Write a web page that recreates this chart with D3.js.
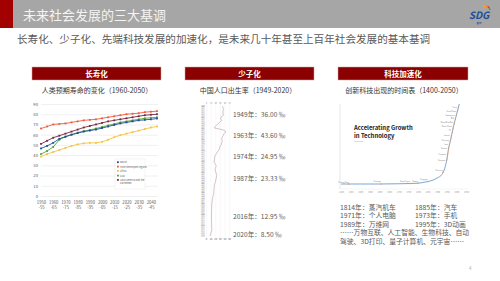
<!DOCTYPE html>
<html><head><meta charset="utf-8">
<script src="https://cdn.jsdelivr.net/npm/d3@7"></script>
<style>
body{margin:0;background:#fff}
svg{display:block}
text{font-family:"Noto Sans CJK SC","Liberation Sans",sans-serif}
</style>
</head><body><script>
'use strict';

// ---- left: life expectancy (UN, 5-year periods)
var periods = ["1950-55","1955-60","1960-65","1965-70","1970-75","1975-80","1980-85","1985-90","1990-95","1995-00",
               "2000-05","2005-10","2010-15","2015-20","2020-25","2025-30","2030-35","2035-40","2040-45","2045-50"];
var seriesNames = ["World","More developed regions","Africa","Asia","Latin America and the Caribbean"];
var worldLE     = [46.5,49,52,56,58,60,61.5,63,64,65,66.5,68,69.5,71,72,73,74,74.5,75,75.8];
var developedLE = [66,68,70,70.5,71,72,73,74,74.5,75,76,77,78,79,80,80.5,81,82,82.5,83];
var africaLE    = [38.5,41,43,45,47,49,50.5,51.5,52,52,53,55,57.5,59.5,61,62.5,64,65.5,67,68];
var asiaLE      = [41,44,48,55,58,60,62,63.5,64.5,66,67.5,69,70.5,72,73,74,75,76,76.5,77];
var latinLE     = [51,54,57,59,61,63,65,67,68.5,70,71.5,73,74,75,76,77,78,79,79.5,80];
var seriesColors = ["#1f4e96","#ee5a3c","#f4c542","#4ea53b","#7b2342"];
var leTicks = [0,10,20,30,40,50,60,70,80,90];

// ---- middle: China birth rate (per mille)
var birthYears = d3.range(1949, 2021);
var birthRates = [36.0,37.0,37.8,37.0,37.0,38.0,32.6,31.9,34.0,29.2,24.8,20.9,18.0,37.0,43.6,39.1,37.9,35.1,34.0,35.6,
                  34.1,33.4,30.7,29.8,27.9,24.95,23.0,19.9,18.9,18.3,17.8,18.2,20.9,22.3,20.2,19.9,21.0,22.4,23.33,22.4,
                  21.6,21.1,19.7,18.2,18.1,17.7,17.1,17.0,16.6,15.6,14.6,14.0,13.4,12.9,12.4,12.3,12.4,12.1,12.1,12.1,
                  12.0,11.9,11.9,12.1,12.1,12.4,12.1,12.95,12.4,10.9,10.5,8.5];
var noteYears = [1949,1963,1974,1987,2016,2020];
var noteTexts = ["1949年：36.00 ‰","1963年：43.60 ‰","1974年：24.95 ‰","1987年：23.33 ‰","2016年：12.95 ‰","2020年：8.50 ‰"];
var noteRows  = [115,136,157,179,217,235];

// ---- right: accelerating growth of technology
var techYears = [1400,1500,1600,1700,1760,1800,1850,1880,1900,1925,1940,1950,1960,1970,1985,2000,2015];
var techLevel = [0,0,0,0.3,0.6,1,3,5,7.5,12,20,30,45,55,72,86,100];
var mileYears = [1440,1608,1760,1800,1850,1930];
var mileNames = ["Printing Press","Telescope","Steam Engine","Battery","Telegraph","Television"];
var steepYears = [1950,1955,1960,1965,1970,1975,1980,1985,1990,1995,2000,2005,2010];
var steepNames = ["Transistor","Computer","Satellite","Laser","Microchip","Internet","PC","Mobile Phone",
                  "World Wide Web","DNA","Smartphone","Social Media","Cloud"];
var techTicks = d3.range(1400, 2051, 50);
var techNotes = [["1814年：蒸汽机车","1885年：汽车"],["1971年：个人电脑","1973年：手机"],["1989年：万维网","1995年：3D动画"]];
var techMore = ["……万物互联、人工智能、生物科技、自动","驾驶、3D打印、量子计算机、元宇宙……"];

var svg = d3.select("body").append("svg").attr("width", 500).attr("height", 281);

// header
svg.append("rect").attr("x", 0).attr("y", 0).attr("width", 500).attr("height", 28).attr("fill", "#a6a6a6");
svg.append("rect").attr("x", 0).attr("y", 0).attr("width", 13).attr("height", 28).attr("fill", "#a30000");
svg.append("text").attr("x", 23).attr("y", 20).attr("font-size", 13).attr("fill", "#f4f4f4")
   .text("未来社会发展的三大基调");
svg.append("text").attr("x", 17).attr("y", 43).attr("font-size", 10.6).attr("fill", "#595959")
   .text("长寿化、少子化、先端科技发展的加速化，是未来几十年甚至上百年社会发展的基本基调");

// logo
var logo = svg.append("g").attr("transform", "translate(479,0)");
var arcColors = ["#f7b500","#ef7d1a","#e3342f","#3aa935"];
arcColors.forEach(function(c, i){
   logo.append("path")
      .attr("transform", "translate(7,10)")
      .attr("d", d3.arc()({innerRadius: 3.2, outerRadius: 4.6, startAngle: -0.6 + i * 0.55, endAngle: -0.6 + (i + 1) * 0.55}))
      .attr("fill", c);
});
logo.append("text").attr("x", 0).attr("y", 19).attr("text-anchor", "middle").attr("font-size", 10)
   .attr("font-weight", "bold").attr("font-style", "italic").attr("fill", "#1d4f9a")
   .attr("font-family", "Liberation Sans").text("SDG");
logo.append("text").attr("x", 0).attr("y", 24).attr("text-anchor", "middle").attr("font-size", 2.6)
   .attr("fill", "#1d4f9a").text("智库");

// section headers
function header(x, w, label){
   svg.append("rect").attr("x", x).attr("y", 67).attr("width", w).attr("height", 13)
      .attr("fill", "#8b0000").attr("stroke", "#d9a0a0").attr("stroke-width", 0.5);
   svg.append("text").attr("x", x + w / 2).attr("y", 76.5).attr("text-anchor", "middle")
      .attr("font-size", 7.5).attr("font-weight", "bold").attr("fill", "#fff").text(label);
}
header(32, 129, "长寿化");
header(185, 129, "少子化");
header(338, 130, "科技加速化");

function subTitle(x, label){
   svg.append("text").attr("x", x).attr("y", 92.5).attr("text-anchor", "middle")
      .attr("font-size", 7).attr("fill", "#333").text(label);
}
subTitle(97, "人类预期寿命的变化（1960-2050）");
subTitle(248, "中国人口出生率（1949-2020）");
subTitle(404, "创新科技出现的时间表（1400-2050）");

// ---- left chart
var lx = d3.scalePoint().domain(periods).range([41, 157]);
var ly = d3.scaleLinear().domain([0, 90]).range([196, 104]);
var left = svg.append("g");
left.append("g").attr("transform", "translate(41,0)")
   .call(d3.axisLeft(ly).tickValues(leTicks).tickSize(-117))
   .call(function(g){
      g.select(".domain").remove();
      g.selectAll(".tick line").attr("stroke", "#d9d9d9").attr("stroke-width", 0.4);
      g.selectAll(".tick text").attr("x", -3).attr("font-size", 4.2).attr("fill", "#595959");
   });
var xg = left.append("g").attr("transform", "translate(0,196)")
   .call(d3.axisBottom(lx).tickValues(periods.filter(function(d, i){ return i % 2 === 0 && i < 19; })).tickSize(0).tickFormat(""));
xg.select(".domain").remove();
xg.selectAll(".tick").each(function(d){
   var p = d.split("-");
   var t = d3.select(this).append("text").attr("fill", "#595959").attr("font-size", 4.2).attr("text-anchor", "middle");
   t.append("tspan").attr("x", 0).attr("y", 7.5).text(p[0]);
   t.append("tspan").attr("x", 0).attr("y", 13).text("-" + p[1]);
});
var leSeries = [worldLE, developedLE, africaLE, asiaLE, latinLE];
var line = d3.line().x(function(d, i){ return lx(periods[i]); }).y(function(d){ return ly(d); });
[2, 3, 0, 4, 1].forEach(function(k){
   var s = leSeries[k];
   left.append("path").attr("d", line(s)).attr("fill", "none").attr("stroke", seriesColors[k]).attr("stroke-width", 0.9);
   left.selectAll(null).data(s).enter().append("rect")
      .attr("x", function(d, i){ return lx(periods[i]) - 0.9; })
      .attr("y", function(d){ return ly(d) - 0.9; })
      .attr("width", 1.8).attr("height", 1.8).attr("fill", seriesColors[k]);
});
var leg = left.append("g").attr("transform", "translate(115,159)");
leg.append("rect").attr("width", 30).attr("height", 30).attr("fill", "#fff").attr("stroke", "#d9d9d9").attr("stroke-width", 0.3);
var legRows = [3.3, 7.7, 12, 16.7, 21];
seriesNames.forEach(function(n, i){
   leg.append("rect").attr("x", 2).attr("y", legRows[i] - 1).attr("width", 1.8).attr("height", 1.8).attr("fill", seriesColors[i]);
   var t = leg.append("text").attr("x", 5).attr("y", legRows[i] + 0.8).attr("font-size", 2.4).attr("fill", "#595959");
   if (i === 4) {
      t.append("tspan").attr("x", 5).text("Latin America and the");
      t.append("tspan").attr("x", 5).attr("dy", 3).text("Caribbean");
   } else t.text(n);
});

// ---- middle chart (rotated: years downwards, rate across)
var my = d3.scaleLinear().domain([1949, 2020]).range([106, 236]);
var mx = d3.scaleLinear().domain([0, 50]).range([206, 229]);
var mid = svg.append("g");
mid.append("g").attr("transform", "translate(0,104)")
   .call(d3.axisTop(mx).ticks(5).tickSize(-134))
   .call(function(g){
      g.select(".domain").remove();
      g.selectAll(".tick line").attr("stroke", "#e6e6e6").attr("stroke-width", 0.3);
      g.selectAll(".tick text").attr("y", -0.5).attr("font-size", 1.8).attr("fill", "#777");
   });
mid.selectAll(null).data(birthYears).enter().append("text")
   .attr("x", 201).attr("y", function(d){ return my(d) + 0.6; })
   .attr("font-size", 1.7).attr("fill", "#8c8c8c").text(function(d){ return d; });
mid.append("path")
   .attr("d", d3.line().x(function(d){ return mx(d); }).y(function(d, i){ return my(birthYears[i]); })(birthRates))
   .attr("fill", "none").attr("stroke", "#b89aa6").attr("stroke-width", 0.6);
mid.append("g").attr("transform", "translate(0,238)")
   .call(d3.axisBottom(mx).ticks(5).tickSize(0))
   .call(function(g){
      g.select(".domain").remove();
      g.selectAll(".tick text").attr("y", 0).attr("font-size", 2.4).attr("fill", "#555");
   });
noteTexts.forEach(function(t, i){
   mid.append("text").attr("x", 233).attr("y", noteRows[i] + 2.3).attr("font-size", 6.6).attr("fill", "#595959").text(t);
});

// ---- right chart
var tx = d3.scaleLinear().domain([1400, 2050]).range([341, 466]);
var ty = d3.scaleLinear().domain([0, 100]).range([184, 104]);
var right = svg.append("g");
right.append("line").attr("x1", 340).attr("x2", 340).attr("y1", 104).attr("y2", 189).attr("stroke", "#bfbfbf").attr("stroke-width", 0.4);
right.append("line").attr("x1", 340).attr("x2", 468).attr("y1", 189).attr("y2", 189).attr("stroke", "#e3e3e3").attr("stroke-width", 0.4);
right.append("g").attr("transform", "translate(0,190)")
   .call(d3.axisBottom(tx).tickValues(techTicks).tickSize(0).tickFormat(d3.format("d")))
   .call(function(g){
      g.select(".domain").remove();
      g.selectAll(".tick text").attr("y", 1.5).attr("font-size", 2.2).attr("fill", "#999");
   });
right.append("text").attr("x", 354).attr("y", 129.5).attr("font-size", 5.9).attr("font-weight", "bold")
   .attr("fill", "#222").attr("font-family", "Liberation Sans").text("Accelerating Growth");
right.append("text").attr("x", 354).attr("y", 137.8).attr("font-size", 5.9).attr("font-weight", "bold")
   .attr("fill", "#222").attr("font-family", "Liberation Sans").text("in Technology");
right.append("text").attr("x", 354).attr("y", 141.8).attr("font-size", 1.8).attr("fill", "#999").text("Livescience");
var techLine = d3.line().curve(d3.curveMonotoneX).x(function(d, i){ return tx(techYears[i]); }).y(function(d){ return ty(d); });
right.append("path").attr("d", techLine(techLevel)).attr("fill", "none").attr("stroke", "#6b9bd1").attr("stroke-width", 0.9);
var levelAt = d3.scaleLinear().domain(techYears).range(techLevel);
right.append("path")
   .attr("d", d3.line().x(function(d){ return tx(d); }).y(function(d){ return ty(levelAt(d)); })(steepYears))
   .attr("fill", "none").attr("stroke", "#f0a050").attr("stroke-width", 0.6).attr("stroke-dasharray", "3,1.5");
mileYears.forEach(function(y, i){
   right.append("circle").attr("cx", tx(y)).attr("cy", ty(levelAt(y))).attr("r", 0.8).attr("fill", "#f39c4a");
   right.append("text").attr("x", tx(y)).attr("y", ty(levelAt(y)) - 1.5).attr("text-anchor", "end")
      .attr("font-size", 1.6).attr("fill", "#777").text(mileNames[i]);
});
steepYears.forEach(function(y, i){
   right.append("circle").attr("cx", tx(y)).attr("cy", ty(levelAt(y))).attr("r", 0.5).attr("fill", "#f39c4a");
   right.append("text").attr("x", tx(y) - 1.5).attr("y", ty(levelAt(y)) + 0.5).attr("text-anchor", "end")
      .attr("font-size", 1.6).attr("fill", "#777").text(steepNames[i]);
});
techNotes.forEach(function(row, i){
   right.append("text").attr("x", 340).attr("y", 209.5 + i * 8.5).attr("font-size", 6.8).attr("fill", "#595959").text(row[0]);
   right.append("text").attr("x", 415).attr("y", 209.5 + i * 8.5).attr("font-size", 6.8).attr("fill", "#595959").text(row[1]);
});
techMore.forEach(function(t, i){
   right.append("text").attr("x", 340).attr("y", 235 + i * 8.5).attr("font-size", 6.8).attr("fill", "#595959").text(t);
});

svg.append("text").attr("x", 469).attr("y", 270).attr("font-size", 4.5).attr("fill", "#aaa").text("4");
</script></body></html>
